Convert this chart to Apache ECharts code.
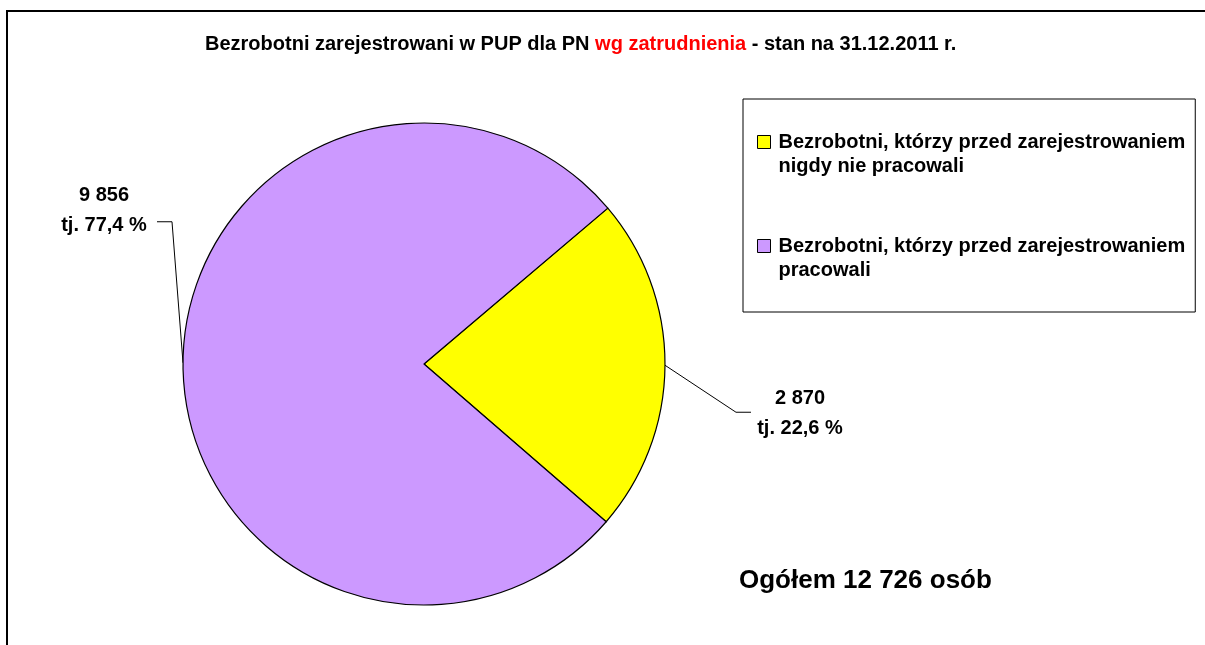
<!DOCTYPE html>
<html>
<head>
<meta charset="utf-8">
<script src="https://cdn.jsdelivr.net/npm/echarts@6/dist/echarts.min.js"></script>
<style>
  html, body { margin: 0; padding: 0; background: #fff; }
  #chart { width: 1205px; height: 645px; }
</style>
</head>
<body>
<div id="chart"></div>
<script>
// Registered unemployed by prior employment, 31.12.2011
const categories = [
  'Bezrobotni, którzy przed zarejestrowaniem nigdy nie pracowali',
  'Bezrobotni, którzy przed zarejestrowaniem pracowali'
];
const values = [2870, 9856];
const colors = ['#FFFF00', '#CC99FF'];

const FONT = "'Liberation Sans', Arial, sans-serif";
const total = values.reduce((a, b) => a + b, 0);
const fmtInt = n => String(n).replace(/\B(?=(\d{3})+(?!\d))/g, ' ');
const fmtPct = v => (v / total * 100).toFixed(1).replace('.', ',');

// Label placement relative to each slice's edge anchor: [elbow, line end, text centre]
const labelOffsets = [
  { elbow: [71, 47], end: [86, 47], text: [135, 48] },
  { elbow: [-11, -141], end: [-26, -141], text: [-79, -152] }
];

const chart = echarts.init(document.getElementById('chart'));
chart.setOption({
  animation: false,
  backgroundColor: '#fff',
  title: {
    left: 205,
    top: 32,
    padding: 0,
    text: '{a|Bezrobotni zarejestrowani w PUP dla PN }{b|wg zatrudnienia}{a| - stan na 31.12.2011 r.}',
    textStyle: {
      rich: {
        a: { fontFamily: FONT, fontSize: 20, fontWeight: 'bold', color: '#000', lineHeight: 24 },
        b: { fontFamily: FONT, fontSize: 20, fontWeight: 'bold', color: '#FF0000', lineHeight: 24 }
      }
    }
  },
  legend: {
    orient: 'vertical',
    left: 743,
    top: 99,
    padding: [7, 10, 30, 14],
    borderColor: '#000',
    borderWidth: 1,
    itemWidth: 13,
    itemHeight: 13,
    itemGap: 32,
    icon: 'rect',
    itemStyle: { borderColor: '#000', borderWidth: 1 },
    // leading blank line keeps the first text line level with the swatch
    formatter: name => ' \n' + name.replace(' zarejestrowaniem ', ' zarejestrowaniem\n'),
    textStyle: {
      fontFamily: FONT,
      fontSize: 20,
      fontWeight: 'bold',
      color: '#000',
      lineHeight: 24,
      padding: [0, 0, 0, 3]
    },
    data: categories
  },
  graphic: [
    {
      type: 'rect',
      silent: true,
      shape: { x: 7, y: 11, width: 1400, height: 800 },
      style: { fill: 'none', stroke: '#000', lineWidth: 2 }
    },
    {
      type: 'text',
      left: 739,
      top: 568,
      style: {
        text: 'Ogółem ' + fmtInt(total) + ' osób',
        fontFamily: FONT,
        fontSize: 26,
        fontWeight: 'bold',
        fill: '#000'
      }
    }
  ],
  series: [{
    type: 'pie',
    center: [424, 364],
    radius: 241,
    startAngle: 40.3,
    clockwise: true,
    avoidLabelOverlap: false,
    itemStyle: { borderColor: '#000', borderWidth: 1.2 },
    label: {
      show: true,
      position: 'outside',
      fontFamily: FONT,
      fontSize: 20,
      fontWeight: 'bold',
      color: '#000',
      lineHeight: 30,
      align: 'center',
      formatter: p => fmtInt(p.value) + '\ntj. ' + fmtPct(p.value) + ' %'
    },
    labelLine: {
      show: true,
      length: 20,
      length2: 15,
      lineStyle: { color: '#000', width: 1 }
    },
    labelLayout: params => {
      const o = labelOffsets[params.dataIndex];
      const a = params.labelLinePoints[0];
      return {
        x: a[0] + o.text[0],
        y: a[1] + o.text[1],
        align: 'center',
        verticalAlign: 'middle',
        labelLinePoints: [
          [a[0], a[1]],
          [a[0] + o.elbow[0], a[1] + o.elbow[1]],
          [a[0] + o.end[0], a[1] + o.end[1]]
        ]
      };
    },
    data: categories.map((name, i) => ({
      name: name,
      value: values[i],
      itemStyle: { color: colors[i] }
    }))
  }]
});
</script>
</body>
</html>
